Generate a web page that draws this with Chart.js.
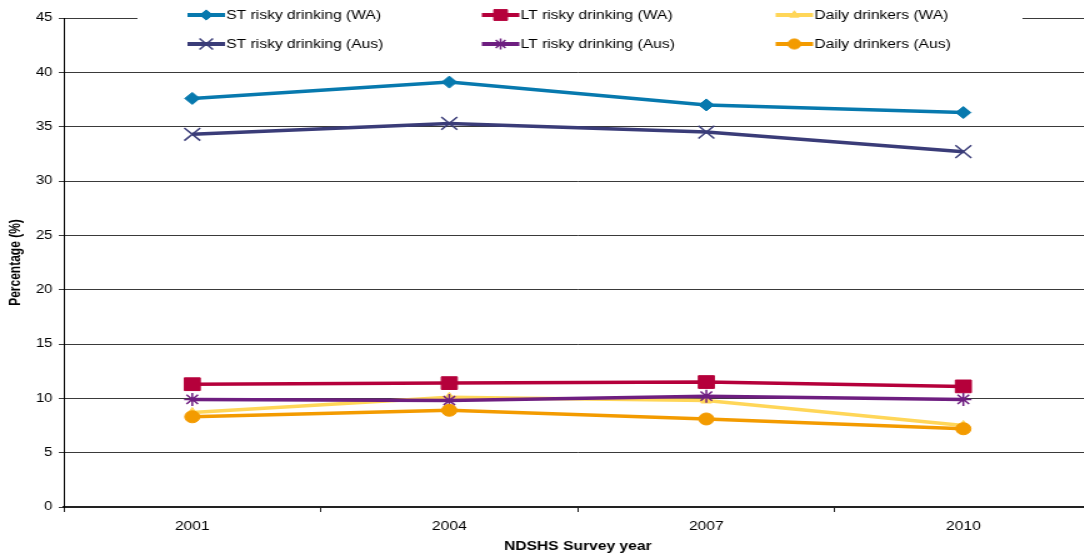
<!DOCTYPE html>
<html>
<head>
<meta charset="utf-8">
<script src="https://cdn.jsdelivr.net/npm/chart.js@4/dist/chart.umd.min.js"></script>
<style>
  html, body { margin: 0; padding: 0; background: #fff; overflow: hidden; }
  #wrap { width: 884px; height: 555px; transform: scaleX(1.25); transform-origin: 0 0; }
</style>
</head>
<body>
<div id="wrap"><canvas id="c" width="884" height="555"></canvas></div>
<script>
// NDSHS survey years
const years = ['2001', '2004', '2007', '2010'];

// Percentages by series
const stRiskyWA  = [37.6, 39.1, 37.0, 36.3];
const ltRiskyWA  = [11.3, 11.4, 11.5, 11.1];
const dailyWA    = [8.7, 10.1, 9.8, 7.5];
const stRiskyAus = [34.3, 35.3, 34.5, 32.7];
const ltRiskyAus = [9.9, 9.8, 10.2, 9.9];
const dailyAus   = [8.3, 8.9, 8.1, 7.2];

const seriesNames = [
  'ST risky drinking (WA)', 'LT risky drinking (WA)', 'Daily drinkers (WA)',
  'ST risky drinking (Aus)', 'LT risky drinking (Aus)', 'Daily drinkers (Aus)'
];
const seriesValues = [stRiskyWA, ltRiskyWA, dailyWA, stRiskyAus, ltRiskyAus, dailyAus];

// y axis range
const yMin = 0, yMax = 45, yStep = 5;

const styles = [
  { color: '#0779AE', point: 'rectRot',  radius: 6,   bw: 1 },
  { color: '#B5003B', point: 'rect',     radius: 9,   bw: 1 },
  { color: '#FFD658', point: 'triangle', radius: 5,   bw: 1 },
  { color: '#3A3C78', point: 'crossRot', radius: 9,   bw: 1.5 },
  { color: '#6E1E80', point: 'star',     radius: 6.5, bw: 1.5 },
  { color: '#F39B00', point: 'circle',   radius: 6,   bw: 1 }
];

const datasets = seriesNames.map((name, i) => ({
  label: name,
  data: seriesValues[i],
  borderColor: styles[i].color,
  backgroundColor: styles[i].color,
  borderWidth: 3.5,
  pointStyle: styles[i].point,
  pointRadius: styles[i].radius,
  pointHoverRadius: styles[i].radius,
  pointBorderWidth: styles[i].bw,
  pointBackgroundColor: styles[i].color,
  pointBorderColor: styles[i].color,
  tension: 0,
  order: -i
}));

// Two-row legend laid over the top of the plot area
const boxLegend = {
  id: 'boxLegend',
  afterDraw(chart) {
    const ctx = chart.ctx;
    ctx.save();
    ctx.fillStyle = '#fff';
    ctx.fillRect(110, 0, 708, 57);
    const cols = [150, 385.5, 620.5];
    const rows = [15, 44];
    ctx.font = '12.5px "Liberation Sans", Arial, sans-serif';
    ctx.textBaseline = 'middle';
    ctx.textAlign = 'left';
    seriesNames.forEach((name, i) => {
      const x = cols[i % 3], y = rows[Math.floor(i / 3)];
      const s = styles[i];
      ctx.strokeStyle = s.color;
      ctx.lineWidth = 4;
      ctx.beginPath();
      ctx.moveTo(x, y);
      ctx.lineTo(x + 30, y);
      ctx.stroke();
      ctx.fillStyle = s.color;
      ctx.lineWidth = s.bw;
      Chart.helpers.drawPoint(ctx, { pointStyle: s.point, radius: s.radius * 0.85, borderWidth: s.bw, rotation: 0 }, x + 15, y);
      ctx.fillStyle = '#000';
      ctx.fillText(name, x + 31, y + 0.5);
    });
    ctx.restore();
  }
};

new Chart(document.getElementById('c'), {
  type: 'line',
  data: { labels: years, datasets },
  plugins: [boxLegend],
  options: {
    responsive: false,
    animation: false,
    devicePixelRatio: 1,
    layout: { padding: { top: 18, right: 1, left: 0, bottom: 0 } },
    plugins: { legend: { display: false }, tooltip: { enabled: false } },
    scales: {
      x: {
        offset: true,
        afterFit(scale) { scale.height = 48; },
        grid: {
          offset: true,
          drawOnChartArea: false,
          drawTicks: true,
          tickLength: 5,
          color: '#222'
        },
        border: { display: true, color: '#222', width: 2 },
        ticks: {
          color: '#000',
          padding: 7,
          font: { family: '"Liberation Sans", Arial, sans-serif', size: 12.5 },
          maxRotation: 0
        },
        title: {
          display: true,
          text: 'NDSHS Survey year',
          color: '#000',
          font: { family: '"Liberation Sans", Arial, sans-serif', size: 12.5, weight: 'bold' },
          padding: { top: 0, bottom: 1 }
        }
      },
      y: {
        min: yMin,
        max: yMax,
        afterFit(scale) { scale.width = 51; },
        ticks: {
          stepSize: yStep,
          color: '#000',
          padding: 5,
          font: { family: '"Liberation Sans", Arial, sans-serif', size: 12 }
        },
        grid: {
          color: '#3a3a3a',
          lineWidth: 1,
          drawTicks: true,
          tickLength: 4
        },
        border: { display: true, color: '#000', width: 1 },
        title: {
          display: true,
          text: 'Percentage (%)',
          color: '#000',
          font: { family: '"Liberation Sans", Arial, sans-serif', size: 12, weight: 'bold' },
          padding: { top: 5, bottom: 0 }
        }
      }
    }
  }
});
</script>
</body>
</html>
